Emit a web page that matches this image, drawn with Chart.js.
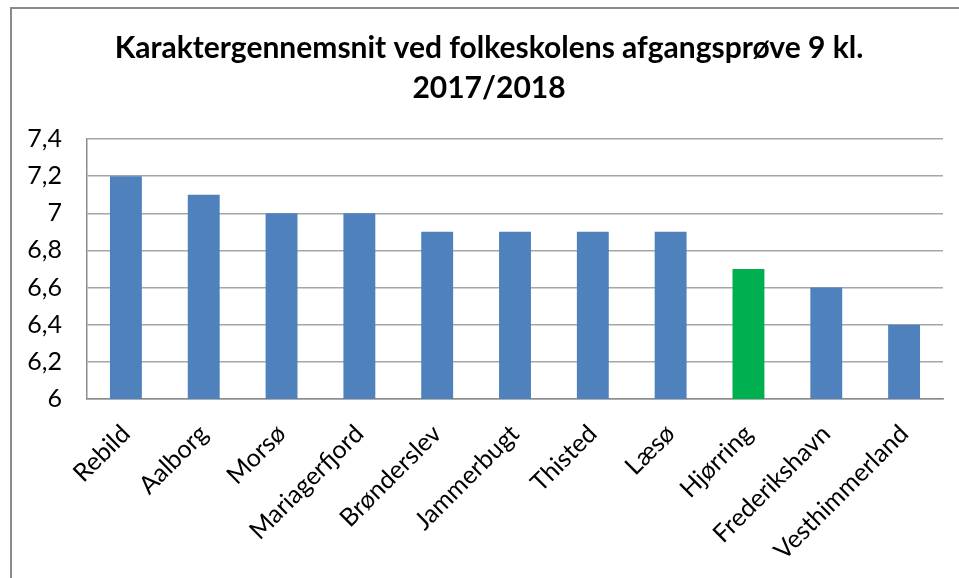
<!DOCTYPE html>
<html>
<head>
<meta charset="utf-8">
<script src="https://cdn.jsdelivr.net/npm/chart.js@4"></script>
<style>
  html, body { margin: 0; padding: 0; background: #fff; overflow: hidden; }
  #frame {
    position: absolute; left: 10px; top: 7px; width: 1000px; height: 700px;
    border-left: 2px solid #8a8a8a; border-top: 2px solid #8a8a8a;
  }
  #wrap { position: absolute; left: 0; top: 0; width: 959px; height: 578px; }
</style>
</head>
<body>
<div id="frame"></div>
<div id="wrap"><canvas id="chart" width="959" height="578"></canvas></div>
<script>
// kommuner og karaktergennemsnit 2017/2018
const municipalities = ['Rebild', 'Aalborg', 'Morsø', 'Mariagerfjord', 'Brønderslev', 'Jammerbugt',
  'Thisted', 'Læsø', 'Hjørring', 'Frederikshavn', 'Vesthimmerland'];
const averages = [7.2, 7.1, 7.0, 7.0, 6.9, 6.9, 6.9, 6.9, 6.7, 6.6, 6.4];
const highlighted = 'Hjørring';
const titleLines = ['Karaktergennemsnit ved folkeskolens afgangsprøve 9 kl.', '2017/2018'];

const FONT = 'Lato, "Open Sans", sans-serif';

// the original title is not centred on the canvas, so draw it here
const titlePlugin = {
  id: 'offsetTitle',
  afterDraw(chart) {
    const c = chart.ctx;
    c.save();
    c.font = 'bold 30px ' + FONT;
    c.fillStyle = '#000';
    c.textAlign = 'center';
    c.textBaseline = 'middle';
    titleLines.forEach((line, i) => c.fillText(line, 489, 48 + i * 40));
    c.restore();
  }
};

const ctx = document.getElementById('chart').getContext('2d');
new Chart(ctx, {
  type: 'bar',
  data: {
    labels: municipalities,
    datasets: [{
      data: averages,
      backgroundColor: municipalities.map(m => m === highlighted ? '#00B050' : '#4F81BD'),
      borderWidth: 0,
      categoryPercentage: 1,
      barPercentage: 0.41
    }]
  },
  plugins: [titlePlugin],
  options: {
    responsive: false,
    animation: false,
    layout: { padding: { left: 0, right: 16, top: 139, bottom: 0 } },
    plugins: {
      legend: { display: false },
      tooltip: { enabled: false },
      title: { display: false }
    },
    scales: {
      x: {
        grid: { display: false, drawTicks: false },
        border: { display: true, color: '#8c8c8c', width: 1.5 },
        ticks: {
          color: '#000',
          font: { family: FONT, size: 25 },
          minRotation: 45,
          maxRotation: 45,
          padding: 20
        },
        afterFit: scale => { scale.height = 179; }
      },
      y: {
        min: 6,
        max: 7.4,
        grid: { color: '#a6a6a6', lineWidth: 1.5, drawTicks: false },
        border: { display: true, color: '#8c8c8c', width: 1.5 },
        ticks: {
          stepSize: 0.2,
          color: '#000',
          padding: 25,
          font: { family: FONT, size: 25 },
          callback: v => String(Math.round(v * 10) / 10).replace('.', ',')
        },
        afterFit: scale => { scale.width = 87; }
      }
    }
  }
});
</script>
</body>
</html>
